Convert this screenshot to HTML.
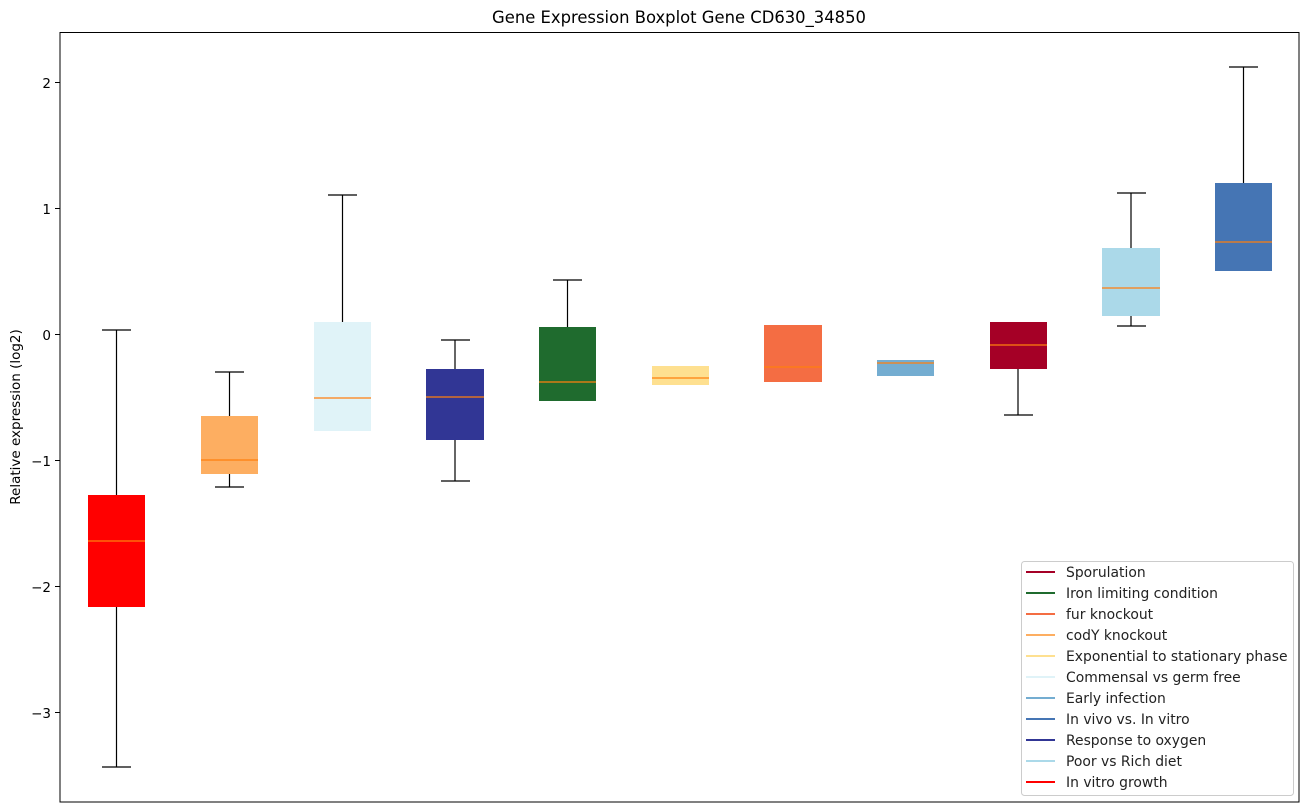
<!DOCTYPE html>
<html><head><meta charset="utf-8"><style>body{margin:0;background:#fff}svg{display:block;font-family:"DejaVu Sans","Liberation Sans",sans-serif}</style></head><body>
<svg width="1309" height="812" viewBox="0 0 1309 812">
<text x="679" y="23" font-size="16.4" text-anchor="middle">Gene Expression Boxplot Gene CD630_34850</text>
<rect x="60" y="32.5" width="1239" height="769.5" fill="none" stroke="#000" stroke-width="1"/>
<g font-size="13.5" text-anchor="end">
<line x1="55" y1="82.5" x2="60" y2="82.5" stroke="#000"/><text x="51" y="88">2</text>
<line x1="55" y1="208.5" x2="60" y2="208.5" stroke="#000"/><text x="51" y="214">1</text>
<line x1="55" y1="334.5" x2="60" y2="334.5" stroke="#000"/><text x="51" y="340">0</text>
<line x1="55" y1="460.5" x2="60" y2="460.5" stroke="#000"/><text x="51" y="466">−1</text>
<line x1="55" y1="586.5" x2="60" y2="586.5" stroke="#000"/><text x="51" y="592">−2</text>
<line x1="55" y1="712.5" x2="60" y2="712.5" stroke="#000"/><text x="51" y="718">−3</text>
</g>
<text transform="translate(20,417) rotate(-90)" font-size="13.5" text-anchor="middle">Relative expression (log2)</text>
<g stroke-width="1.2">
<g stroke="#000">
<line x1="116.5" y1="330" x2="116.5" y2="767"/><line x1="102" y1="330" x2="131" y2="330"/><line x1="102" y1="767" x2="131" y2="767"/>
<line x1="229.5" y1="372" x2="229.5" y2="487"/><line x1="215" y1="372" x2="244" y2="372"/><line x1="215" y1="487" x2="244" y2="487"/>
<line x1="342.5" y1="195" x2="342.5" y2="322"/><line x1="328" y1="195" x2="357" y2="195"/>
<line x1="455" y1="340" x2="455" y2="481"/><line x1="441" y1="340" x2="470" y2="340"/><line x1="441" y1="481" x2="470" y2="481"/>
<line x1="567.5" y1="280" x2="567.5" y2="327"/><line x1="553" y1="280" x2="582" y2="280"/>
<line x1="1018" y1="369" x2="1018" y2="415"/><line x1="1004" y1="415" x2="1033" y2="415"/>
<line x1="1131" y1="193" x2="1131" y2="326"/><line x1="1117" y1="193" x2="1146" y2="193"/><line x1="1117" y1="326" x2="1146" y2="326"/>
<line x1="1243.5" y1="67" x2="1243.5" y2="183"/><line x1="1229" y1="67" x2="1258" y2="67"/>
</g>
<rect x="88" y="495" width="57" height="112" fill="#ff0000"/>
<rect x="201" y="416" width="57" height="58" fill="#fdae61"/>
<rect x="314" y="322" width="57" height="109" fill="#e0f3f8"/>
<rect x="426" y="369" width="58" height="71" fill="#313695"/>
<rect x="539" y="327" width="57" height="74" fill="#1f6b2e"/>
<rect x="652" y="366" width="57" height="19" fill="#fee090"/>
<rect x="764" y="325" width="58" height="57" fill="#f46d43"/>
<rect x="877" y="360" width="57" height="16" fill="#74add1"/>
<rect x="990" y="322" width="57" height="47" fill="#a50026"/>
<rect x="1102" y="248" width="58" height="68" fill="#abd9e9"/>
<rect x="1215" y="183" width="57" height="88" fill="#4575b4"/>
<g stroke="#ff7f0e">
<line x1="88" y1="541" x2="145" y2="541"/><line x1="201" y1="460" x2="258" y2="460"/><line x1="314" y1="398" x2="371" y2="398"/><line x1="426" y1="397" x2="484" y2="397"/><line x1="539" y1="382" x2="596" y2="382"/><line x1="652" y1="378" x2="709" y2="378"/><line x1="764" y1="367" x2="822" y2="367"/><line x1="877" y1="363" x2="934" y2="363"/><line x1="990" y1="345" x2="1047" y2="345"/><line x1="1102" y1="288" x2="1160" y2="288"/><line x1="1215" y1="242" x2="1272" y2="242"/>
</g>
</g>
<rect x="1021.5" y="561.5" width="272" height="234" rx="3" fill="#fff" stroke="#ccc"/>
<g stroke-width="2">
<line x1="1026" x2="1055" y1="572" y2="572" stroke="#a50026"/>
<line x1="1026" x2="1055" y1="593" y2="593" stroke="#1f6b2e"/>
<line x1="1026" x2="1055" y1="614" y2="614" stroke="#f46d43"/>
<line x1="1026" x2="1055" y1="635" y2="635" stroke="#fdae61"/>
<line x1="1026" x2="1055" y1="656" y2="656" stroke="#fee090"/>
<line x1="1026" x2="1055" y1="677" y2="677" stroke="#e0f3f8"/>
<line x1="1026" x2="1055" y1="698" y2="698" stroke="#74add1"/>
<line x1="1026" x2="1055" y1="719" y2="719" stroke="#4575b4"/>
<line x1="1026" x2="1055" y1="740" y2="740" stroke="#313695"/>
<line x1="1026" x2="1055" y1="761" y2="761" stroke="#abd9e9"/>
<line x1="1026" x2="1055" y1="782" y2="782" stroke="#ff0000"/>
</g>
<g font-size="13.9" fill="#222">
<text x="1066" y="577">Sporulation</text>
<text x="1066" y="598">Iron limiting condition</text>
<text x="1066" y="619">fur knockout</text>
<text x="1066" y="640">codY knockout</text>
<text x="1066" y="661">Exponential to stationary phase</text>
<text x="1066" y="682">Commensal vs germ free</text>
<text x="1066" y="703">Early infection</text>
<text x="1066" y="724">In vivo vs. In vitro</text>
<text x="1066" y="745">Response to oxygen</text>
<text x="1066" y="766">Poor vs Rich diet</text>
<text x="1066" y="787">In vitro growth</text>
</g>
</svg>
</body></html>
